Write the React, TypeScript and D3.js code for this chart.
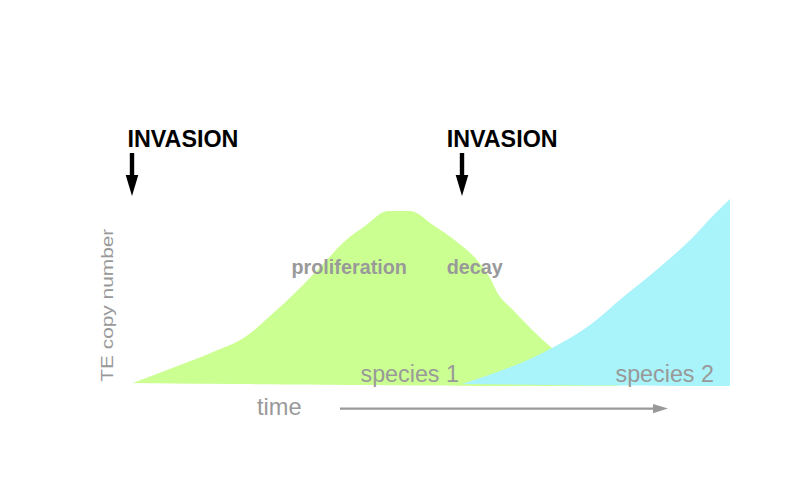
import React from "react";
import * as d3 from "d3";

// time units (x) and TE copy-number units (y)
const greenTime = [3, 45, 83, 115, 140, 170, 193, 215, 235, 258, 280, 303, 327, 347, 360, 367, 383, 422, 460, 490];
const greenCopies = [3, 19, 34, 49, 70, 98, 122, 145, 160, 175, 175, 161, 144, 126, 108, 94, 76, 38, 11, 0];
const greenBase = [3, 2.5, 2.2, 1.9, 1.7, 1.4, 1.2, 1, 0.9, 0.7, 0.5, 0.4, 0.2, 0.1, 0, 0, 0, 0, 0, 0];

const blueTime = [332, 422, 460, 492, 530, 567, 577, 600];
const blueCopies = [2, 38, 61, 88, 119, 153, 164, 187];
const blueBase = [2, 1, 0.6, 0.4, 0.2, 0, 0, 0];

const invasionTimes = [2, 332];
const invasionLabels = ["INVASION", "INVASION"];
const phaseLabels = ["proliferation", "decay"];
const speciesLabels = ["species 1", "species 2"];

const W = 806;
const H = 487;

export default function App() {
  const x = d3.scaleLinear().domain([0, 600]).range([130, 730]);
  const y = d3.scaleLinear().domain([0, 180]).range([386, 206]);

  const area = d3
    .area<[number, number, number]>()
    .x((d) => x(d[0]))
    .y1((d) => y(d[1]))
    .y0((d) => y(d[2]))
    .curve(d3.curveMonotoneX);

  const greenData = greenTime.map((t, i) => [t, greenCopies[i], greenBase[i]] as [number, number, number]);
  const blueData = blueTime.map((t, i) => [t, blueCopies[i], blueBase[i]] as [number, number, number]);

  const gray = "#999999";
  const font = "'Liberation Sans', Arial, Helvetica, sans-serif";
  const labelX = [127.5, 446.7];

  return (
    <svg
      width={W}
      height={H}
      viewBox={`0 0 ${W} ${H}`}
      style={{ position: "absolute", left: 0, top: 0, background: "#fff" }}
      fontFamily={font}
    >
      <rect x={0} y={0} width={W} height={H} fill="#fff" />
      <path d={area(greenData) || ""} fill="#CCFF91" />
      <path d={area(blueData) || ""} fill="#A9F3FA" />

      {invasionTimes.map((t, i) => {
        const cx = x(t);
        return (
          <g key={"inv" + i}>
            <text x={labelX[i]} y={146.5} fontSize={23.3} fontWeight="bold" fill="#000">
              {invasionLabels[i]}
            </text>
            <rect x={cx - 2.2} y={153} width={4.4} height={23} fill="#000" />
            <path d={`M${cx - 6.3},175 L${cx + 6.3},175 L${cx},196 Z`} fill="#000" />
          </g>
        );
      })}

      <text x={291.5} y={274} fontSize={19.8} fontWeight="bold" fill={gray}>
        {phaseLabels[0]}
      </text>
      <text x={446.7} y={274} fontSize={19.8} fontWeight="bold" fill={gray}>
        {phaseLabels[1]}
      </text>

      <text x={360.5} y={381.7} fontSize={23.3} fill={gray}>
        {speciesLabels[0]}
      </text>
      <text x={615.5} y={381.7} fontSize={23.3} fill={gray}>
        {speciesLabels[1]}
      </text>

      <text
        transform="translate(112.7,381.7) rotate(-90)"
        fontSize={16.5}
        fill={gray}
        textLength={153}
        lengthAdjust="spacingAndGlyphs"
      >
        TE copy number
      </text>

      <text x={257} y={415} fontSize={23.6} fill={gray}>
        time
      </text>
      <line x1={340} y1={408.6} x2={655} y2={408.6} stroke={gray} strokeWidth={2.2} />
      <path d="M653,404 L668,408.6 L653,413.2 Z" fill={gray} />
    </svg>
  );
}
